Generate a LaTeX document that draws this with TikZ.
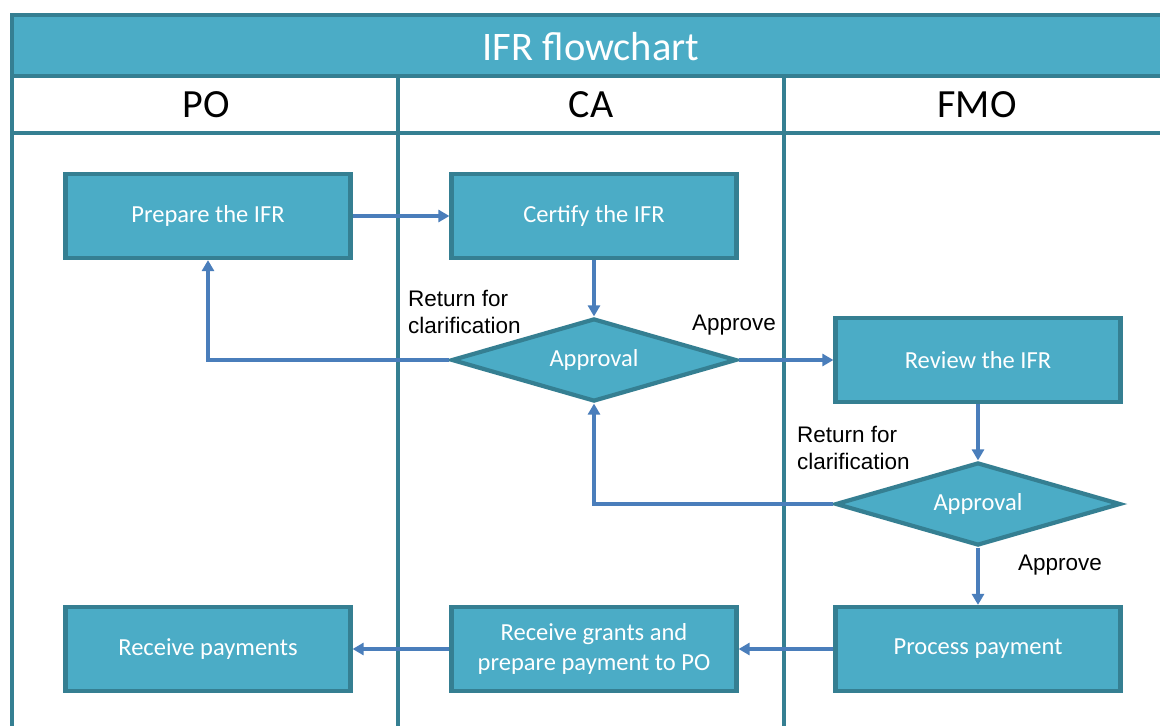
\documentclass[tikz,border=0pt]{standalone}
\usepackage{fontspec}
\setmainfont{Carlito}
\newfontfamily\labfont{Liberation Sans}
\usetikzlibrary{shapes.geometric,arrows.meta}
\definecolor{tealfill}{HTML}{4BACC6}
\definecolor{tealline}{HTML}{357F92}
\definecolor{arrblue}{HTML}{4A7EBB}
\tikzset{
  stepbox/.style={rectangle, draw=tealline, fill=tealfill, line width=4.2pt,
    minimum width=285pt, minimum height=84pt, inner sep=2pt, text=white,
    align=center, font=\fontsize{24.5}{30}\selectfont},
  decbox/.style={diamond, aspect=3.4, draw=tealline, fill=tealfill, line width=4.2pt,
    minimum width=285pt, minimum height=83pt, inner sep=0pt, text=white,
    font=\fontsize{24.5}{30}\selectfont},
  arr/.style={draw=arrblue, line width=3.1pt, -{Triangle[width=12pt,length=11pt]}},
  lab/.style={font=\labfont\fontsize{22.5}{27}\selectfont, align=left, inner sep=0pt, text=black},
  lanehead/.style={font=\fontsize{40}{42}\selectfont, text=black},
  frameline/.style={draw=tealline, line width=4.2pt}
}
\begin{document}
\begin{tikzpicture}[x=1pt,y=-1pt]
\useasboundingbox (0,0) rectangle (1160,726);
\clip (0,0) rectangle (1160,726);
\fill[white] (0,0) rectangle (1160,726);
% frame
\draw[frameline, fill=tealfill] (12,15) rectangle (1174,76);
\node[font=\fontsize{40.5}{42}\selectfont, text=white] (title) at (591,47) {IFR flowchart};
\draw[frameline] (12,76) -- (12,740);
\draw[frameline] (12,133) -- (1174,133);
\draw[frameline] (398,76) -- (398,740);
\draw[frameline] (784,76) -- (784,740);
\node[lanehead] (hpo) at (206,105) {PO};
\node[lanehead] (hca) at (591,105) {CA};
\node[lanehead] (hfmo) at (977,105) {FMO};
% nodes
\node[stepbox] (prep) at (208,216) {Prepare the IFR};
\node[stepbox] (cert) at (594,216) {Certify the IFR};
\node[decbox] (ap1) at (594,360) {Approval};
\node[stepbox] (rev) at (978,360) {Review the IFR};
\node[decbox] (ap2) at (978,504) {Approval};
\node[stepbox] (proc) at (978,649) {Process payment};
\node[stepbox] (grant) at (594,649) {Receive grants and\\prepare payment to PO};
\node[stepbox] (recv) at (208,649) {Receive payments};
% labels
\node[lab, anchor=west] (l1) at (408,312) {Return for\\clarification};
\node[lab, anchor=west] (l2) at (692,325) {Approve};
\node[lab, anchor=west] (l3) at (797,448) {Return for\\clarification};
\node[lab, anchor=west] (l4) at (1018,565) {Approve};
% connectors
\draw[arr] (prep.east) -- (cert.west);
\draw[arr] (cert.south) -- (ap1.north);
\draw[arr] (ap1.west) -| (prep.south);
\draw[arr] (ap1.east) -- (rev.west);
\draw[arr] (rev.south) -- (ap2.north);
\draw[arr] (ap2.west) -| (ap1.south);
\draw[arr] (ap2.south) -- (proc.north);
\draw[arr] (proc.west) -- (grant.east);
\draw[arr] (grant.west) -- (recv.east);
\end{tikzpicture}
\end{document}
